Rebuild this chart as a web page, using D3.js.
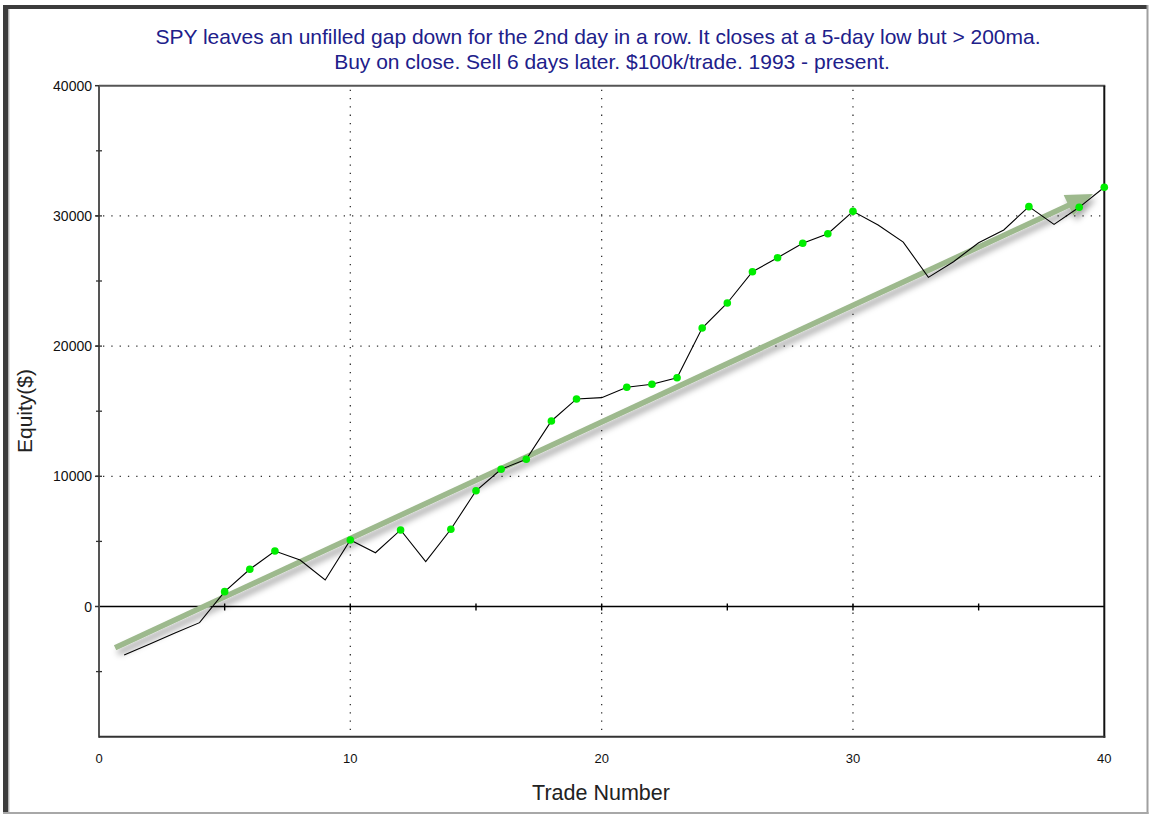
<!DOCTYPE html>
<html>
<head>
<meta charset="utf-8">
<script src="https://cdn.jsdelivr.net/npm/d3@7"></script>
<style>
  body { margin: 0; background: #fff; }
  text { font-family: "Liberation Sans", Arial, sans-serif; }
</style>
</head>
<body>
<div id="chart"></div>
<script>
// Data
const trades = d3.range(1, 41)
const equity = [
  -3720, -2900, -2050, -1240, 1140, 2860, 4260, 3570, 2040, 5110,
  4130, 5880, 3440, 5930, 8890, 10540, 11310, 14250, 15940, 16040,
  16840, 17070, 17570, 21390, 23310, 25710, 26790, 27900, 28630, 30350,
  29300, 27990, 25280, 26480, 27940, 28920, 30710, 29350, 30660, 32200
]
// trades marked with a green dot
const markedTrades = [5, 6, 7, 10, 12, 14, 15, 16, 17, 18, 19, 21, 22, 23, 24, 25, 26, 27, 28, 29, 30, 37, 39, 40]
// trend arrow, start and tip, in data units
const arrowTrade = [0.64, 39.55]
const arrowEquity = [-3160, 31680]

const xTickLabels = [0, 10, 20, 30, 40]
const yTickLabels = [0, 10000, 20000, 30000, 40000]
const minorXTicks = [5, 10, 15, 20, 25, 30, 35]
const minorYTicks = [-5000, 5000, 10000, 15000, 20000, 25000, 30000, 35000]
const xGrid = [10, 20, 30]
const yGrid = [10000, 20000, 30000]

const titleLines = [
  'SPY leaves an unfilled gap down for the 2nd day in a row. It closes at a 5-day low but > 200ma.',
  'Buy on close. Sell 6 days later. $100k/trade. 1993 - present.'
]

function draw() {
  // Dimensions
  const dimensions = {
    width: 1151,
    height: 818,
    left: 99,
    right: 1104.3,
    top: 85.7,
    bottom: 736.7,
  }

  const svg = d3.select('#chart')
    .append('svg')
    .attr('width', dimensions.width)
    .attr('height', dimensions.height)

  // outer frame
  svg.append('rect').attr('x', 3).attr('y', 5).attr('width', 5.5).attr('height', 809).attr('fill', '#3c3c3c')
  svg.append('rect').attr('x', 3).attr('y', 5).attr('width', 1145).attr('height', 4).attr('fill', '#3c3c3c')
  svg.append('rect').attr('x', 1146.5).attr('y', 5).attr('width', 2).attr('height', 809).attr('fill', '#a0a0a0')
  svg.append('rect').attr('x', 3).attr('y', 812).attr('width', 1145.5).attr('height', 2).attr('fill', '#a8a8a8')
  svg.append('line').attr('x1', 9).attr('x2', 9).attr('y1', 9).attr('y2', 812).attr('stroke', '#c8c8c8')

  // Scales
  const xScale = d3.scaleLinear()
    .domain([0, 40])
    .range([dimensions.left, dimensions.right])

  const yScale = d3.scaleLinear()
    .domain([-10000, 40000])
    .range([dimensions.bottom, dimensions.top])

  const defs = svg.append('defs')
  const shadow = defs.append('filter')
    .attr('id', 'shadow')
    .attr('x', '-10%').attr('y', '-50%')
    .attr('width', '120%').attr('height', '200%')
  shadow.append('feDropShadow')
    .attr('dx', 3).attr('dy', 5)
    .attr('stdDeviation', 3)
    .attr('flood-color', '#000')
    .attr('flood-opacity', 0.35)

  // Gridlines
  const grid = svg.append('g')
    .attr('stroke', '#333')
    .attr('stroke-width', 1.3)
    .attr('stroke-dasharray', '1.3,7')

  grid.selectAll('.gx')
    .data(xGrid)
    .join('line')
    .attr('x1', d => xScale(d)).attr('x2', d => xScale(d))
    .attr('y1', dimensions.top + 4).attr('y2', dimensions.bottom)

  grid.selectAll('.gy')
    .data(yGrid)
    .join('line')
    .attr('x1', dimensions.left + 4).attr('x2', dimensions.right)
    .attr('y1', d => yScale(d)).attr('y2', d => yScale(d))

  // zero line with ticks
  svg.append('line')
    .attr('x1', dimensions.left).attr('x2', dimensions.right)
    .attr('y1', yScale(0)).attr('y2', yScale(0))
    .attr('stroke', '#000').attr('stroke-width', 1.6)

  svg.selectAll('.xtick')
    .data(minorXTicks)
    .join('line')
    .attr('x1', d => xScale(d)).attr('x2', d => xScale(d))
    .attr('y1', yScale(0) - 3).attr('y2', yScale(0) + 4)
    .attr('stroke', '#000').attr('stroke-width', 1.4)

  // plot frame
  svg.append('line')
    .attr('x1', dimensions.left).attr('x2', dimensions.right + 1)
    .attr('y1', dimensions.top).attr('y2', dimensions.top)
    .attr('stroke', '#555').attr('stroke-width', 2)
  svg.append('line')
    .attr('x1', dimensions.left).attr('x2', dimensions.left)
    .attr('y1', dimensions.top).attr('y2', dimensions.bottom + 1)
    .attr('stroke', '#555').attr('stroke-width', 2)
  svg.append('line')
    .attr('x1', dimensions.right).attr('x2', dimensions.right)
    .attr('y1', dimensions.top).attr('y2', dimensions.bottom + 1)
    .attr('stroke', '#111').attr('stroke-width', 2)
  svg.append('line')
    .attr('x1', dimensions.left).attr('x2', dimensions.right + 1)
    .attr('y1', dimensions.bottom).attr('y2', dimensions.bottom)
    .attr('stroke', '#333').attr('stroke-width', 2)

  // Y axis ticks
  svg.selectAll('.ytick')
    .data(minorYTicks)
    .join('line')
    .attr('x1', dimensions.left - 3).attr('x2', dimensions.left + 3)
    .attr('y1', d => yScale(d)).attr('y2', d => yScale(d))
    .attr('stroke', '#333').attr('stroke-width', 1.3)

  svg.selectAll('.ymajor')
    .data(yTickLabels)
    .join('line')
    .attr('x1', dimensions.left - 4).attr('x2', dimensions.left)
    .attr('y1', d => yScale(d)).attr('y2', d => yScale(d))
    .attr('stroke', '#333').attr('stroke-width', 1.5)

  svg.selectAll('.ylabel')
    .data(yTickLabels)
    .join('text')
    .attr('x', dimensions.left - 7)
    .attr('y', d => yScale(d) + 5)
    .attr('text-anchor', 'end')
    .attr('font-size', 14)
    .attr('fill', '#111')
    .text(d => d)

  svg.selectAll('.xlabel')
    .data(xTickLabels)
    .join('text')
    .attr('x', d => xScale(d))
    .attr('y', 763)
    .attr('text-anchor', 'middle')
    .attr('font-size', 13)
    .attr('fill', '#111')
    .text(d => d)

  // Trend arrow
  const ax0 = xScale(arrowTrade[0]), ay0 = yScale(arrowEquity[0])
  const ax1 = xScale(arrowTrade[1]), ay1 = yScale(arrowEquity[1])
  const angle = Math.atan2(ay1 - ay0, ax1 - ax0)
  const headLen = 27, headHalf = 11.5
  const bx = ax1 - headLen * Math.cos(angle), by = ay1 - headLen * Math.sin(angle)
  const nx = -Math.sin(angle), ny = Math.cos(angle)

  const arrow = svg.append('g')
    .attr('filter', 'url(#shadow)')

  arrow.append('line')
    .attr('x1', ax0).attr('y1', ay0)
    .attr('x2', bx + 2 * Math.cos(angle)).attr('y2', by + 2 * Math.sin(angle))
    .attr('stroke', '#9db98d')
    .attr('stroke-width', 5.5)

  arrow.append('path')
    .attr('d', `M${ax1},${ay1}L${bx + nx * headHalf},${by + ny * headHalf}L${bx - nx * headHalf},${by - ny * headHalf}Z`)
    .attr('fill', '#9db98d')

  // Equity line
  const lineGen = d3.line()
    .x((d, i) => xScale(trades[i]))
    .y(d => yScale(d))

  svg.append('path')
    .datum(equity)
    .attr('d', lineGen)
    .attr('fill', 'none')
    .attr('stroke', '#000')
    .attr('stroke-width', 1.1)

  svg.selectAll('.dot')
    .data(markedTrades)
    .join('circle')
    .attr('cx', d => xScale(d))
    .attr('cy', d => yScale(equity[d - 1]))
    .attr('r', 3.8)
    .attr('fill', '#00ee00')

  // Titles
  svg.selectAll('.title')
    .data(titleLines)
    .join('text')
    .attr('x', (d, i) => i === 0 ? 598 : 612)
    .attr('y', (d, i) => 44 + i * 25)
    .attr('text-anchor', 'middle')
    .attr('font-size', 21)
    .attr('fill', '#20208a')
    .text(d => d)

  svg.append('text')
    .attr('x', 601)
    .attr('y', 800)
    .attr('text-anchor', 'middle')
    .attr('font-size', 21.5)
    .attr('fill', '#222')
    .text('Trade Number')

  svg.append('text')
    .attr('transform', 'translate(32, 411) rotate(-90)')
    .attr('text-anchor', 'middle')
    .attr('font-size', 21)
    .attr('fill', '#222')
    .text('Equity($)')
}

draw()
</script>
</body>
</html>
